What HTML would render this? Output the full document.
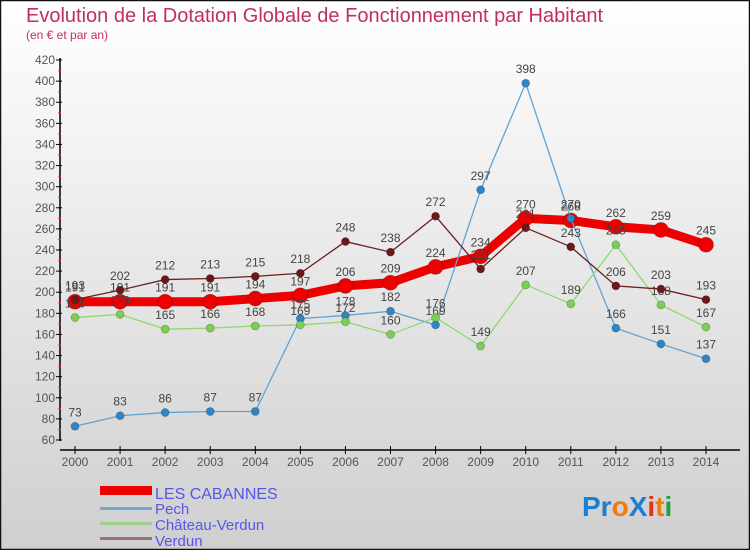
<!DOCTYPE html>
<html><head><meta charset="utf-8"><style>
html,body{margin:0;padding:0}
body{width:750px;height:550px;overflow:hidden;font-family:"Liberation Sans","DejaVu Sans",sans-serif}
svg text{font-family:"Liberation Sans","DejaVu Sans",sans-serif}
</style></head><body>
<svg id="chart" width="750" height="550" viewBox="0 0 750 550">
<defs><linearGradient id="bg" x1="0" y1="0" x2="0" y2="1"><stop offset="0" stop-color="#ffffff"/><stop offset="1" stop-color="#cfcfcf"/></linearGradient></defs>
<rect x="0.5" y="0.5" width="749" height="549" fill="url(#bg)" stroke="#111" stroke-width="1.5"/>
<text x="26" y="22" font-size="20" fill="#c0305a">Evolution de la Dotation Globale de Fonctionnement par Habitant</text>
<text x="26" y="39" font-size="12" fill="#c0305a">(en € et par an)</text>
<g id="axes"></g><g id="series"></g>
<g>
<rect x="100" y="486" width="52" height="9" fill="#ee0000"/>
<text x="155" y="499" font-size="16" fill="#5555ee">LES CABANNES</text>
<rect x="100" y="507" width="52" height="3" fill="#6fa8d0"/>
<text x="155" y="514" font-size="15" fill="#5555ee">Pech</text>
<rect x="100" y="522" width="52" height="3" fill="#9fd08a"/>
<text x="155" y="530" font-size="15" fill="#5555ee">Château-Verdun</text>
<rect x="100" y="537" width="52" height="3" fill="#9a7070"/>
<text x="155" y="546" font-size="15" fill="#5555ee">Verdun</text>
</g>
<g font-size="28" font-weight="bold">
<text x="582" y="516"><tspan fill="#1a7fd4">Pr</tspan><tspan fill="#f07a10">o</tspan><tspan fill="#1a7fd4">X</tspan><tspan fill="#e03020">i</tspan><tspan fill="#f07a10">t</tspan><tspan fill="#20a040">i</tspan></text>
</g>
</svg>
<script>
const years=[2000,2001,2002,2003,2004,2005,2006,2007,2008,2009,2010,2011,2012,2013,2014];
const yTicks=[60,80,100,120,140,160,180,200,220,240,260,280,300,320,340,360,380,400,420];
const cabannes=[191,191,191,191,194,197,206,209,224,234,270,268,262,259,245];
const pech=[73,83,86,87,87,175,178,182,169,297,398,270,166,151,137];
const chateau=[176,179,165,166,168,169,172,160,176,149,207,189,245,188,167];
const verdun=[193,202,212,213,215,218,248,238,272,222,261,243,206,203,193];
const NS="http://www.w3.org/2000/svg";
function xs(i){return 75+i*(706-75)/(years.length-1);}
function ys(v){return 440-(v-60)*(380/360);}
function mk(tag,attrs,parent){const e=document.createElementNS(NS,tag);for(const k in attrs)e.setAttribute(k,attrs[k]);parent.appendChild(e);return e;}
const ax=document.getElementById('axes');
let yl=mk('line',{x1:60,y1:58,x2:60,y2:441,stroke:'#000','stroke-width':1.5},ax);


let xl=mk('line',{x1:60,y1:450,x2:740,y2:450,stroke:'#000','stroke-width':1.5},ax);


yTicks.forEach(v=>{
 const y=ys(v);
 mk('line',{x1:56,y1:y,x2:62,y2:y,stroke:'#000'},ax);
 if(v<420) mk('line',{x1:58,y1:y-10.5,x2:61,y2:y-10.5,stroke:'#e33'},ax);
 const t=mk('text',{x:55,y:y+4,'font-size':12,fill:'#555','text-anchor':'end'},ax);
 t.textContent=v;
 
 
});
years.forEach((yr,i)=>{
 const x=xs(i);
 mk('line',{x1:x,y1:446,x2:x,y2:454,stroke:'#000'},ax);
 const t=mk('text',{x:x,y:466,'font-size':12,fill:'#555','text-anchor':'middle'},ax);
 t.textContent=yr;
 
 
});
const sg=document.getElementById('series');
function draw(data,name,color,dot,w,r){
 const g=mk('g',{},sg);
 
 
 mk('polyline',{points:data.map((v,i)=>xs(i)+','+ys(v)).join(' '),fill:'none',stroke:color,'stroke-width':w,'stroke-linejoin':'round'},g);
 data.forEach((v,i)=>{
  const c=mk('circle',{cx:xs(i),cy:ys(v),r:r,fill:dot,stroke:'rgba(0,0,0,0.25)','stroke-width':0.8},g);
  
  
  const t=mk('text',{x:xs(i),y:ys(v)-10,'font-size':12,fill:'#444','text-anchor':'middle'},g);
  t.textContent=v;
  
  
 });
}
draw(cabannes,'les-cabannes','#ee0000','#ee0000',9,7.5);
draw(pech,'pech','#5fa3d6','#2e86c8',1.3,4);
draw(chateau,'chateau-verdun','#8fd870','#7ccf50',1.3,4);
draw(verdun,'verdun','#6a2020','#6a1818',1.3,4);
</script>
</body></html>
